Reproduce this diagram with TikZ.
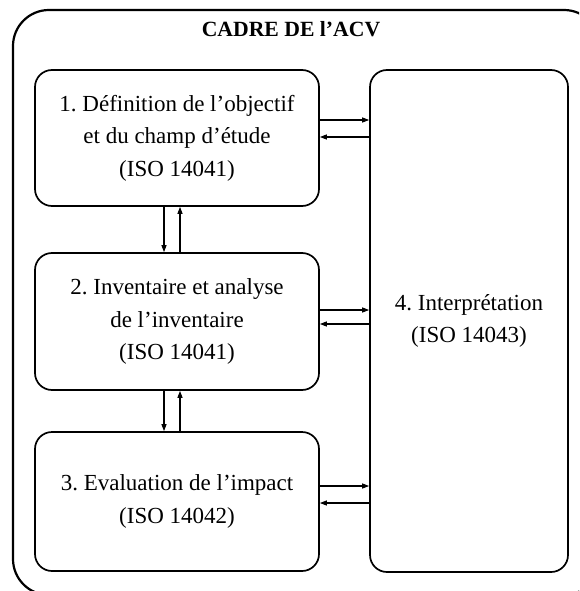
\documentclass[tikz,border=0pt]{standalone}
\usepackage{fontspec}
\setmainfont{Liberation Serif}
\usetikzlibrary{arrows.meta}
\begin{document}
\frenchspacing
\begin{tikzpicture}[x=1pt,y=-1pt,
  stagebox/.style={draw, line width=1.7pt, rounded corners=17pt, inner sep=0pt,
    minimum width=284pt, align=center, font=\fontsize{23}{32.5}\selectfont},
  arr/.style={line width=1.1pt, -{Triangle[length=7pt,width=5pt]}}]
\clip (0,0) rectangle (579,591);
\draw[line width=2.2pt, rounded corners=36pt] (13,10) rectangle (600,595);
\node[font=\fontsize{21.7}{24}\selectfont\bfseries] (title) at (291,29) {CADRE DE l’ACV};
\node[stagebox, minimum height=136pt] (b1) at (177,138) {1. Définition de l’objectif\\et du champ d’étude\\(ISO 14041)};
\node[stagebox, minimum height=137pt] (b2) at (177,321.5) {2. Inventaire et analyse\\de l’inventaire\\(ISO 14041)};
\node[stagebox, minimum height=139pt] (b3) at (177,501.5) {3. Evaluation de l’impact\\(ISO 14042)};
\node[stagebox, minimum width=198pt, minimum height=502pt] (b4) at (469,321) {4. Interprétation\\(ISO 14043)};
% horizontal arrows
\draw[arr] (b1.east |- 0,120) -- (b4.west |- 0,120);
\draw[arr] (b4.west |- 0,137) -- (b1.east |- 0,137);
\draw[arr] (b2.east |- 0,310) -- (b4.west |- 0,310);
\draw[arr] (b4.west |- 0,324) -- (b2.east |- 0,324);
\draw[arr] (b3.east |- 0,486) -- (b4.west |- 0,486);
\draw[arr] (b4.west |- 0,503) -- (b3.east |- 0,503);
% vertical arrows
\draw[arr] (b1.south -| 164,0) -- (b2.north -| 164,0);
\draw[arr] (b2.north -| 180,0) -- (b1.south -| 180,0);
\draw[arr] (b2.south -| 164,0) -- (b3.north -| 164,0);
\draw[arr] (b3.north -| 180,0) -- (b2.south -| 180,0);
\end{tikzpicture}
\end{document}
